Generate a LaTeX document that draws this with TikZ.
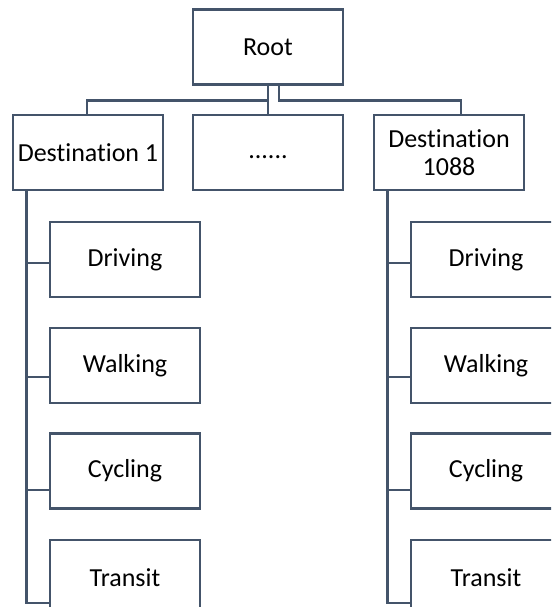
\documentclass[tikz,border=0pt]{standalone}
\usepackage{fontspec}
\setmainfont{Carlito}[Ligatures=CommonOff]
\usetikzlibrary{calc}
\definecolor{edge}{HTML}{44546A}
\tikzset{
  box/.style={draw=edge, line width=1.9pt, fill=white, rectangle,
    minimum width=112.5pt, minimum height=56pt, inner sep=2pt,
    align=center, font=\fontsize{19.5pt}{21pt}\selectfont, text=black},
  link/.style={draw=edge, line width=1.9pt}
}
\begin{document}
\begin{tikzpicture}[x=0.75pt, y=-0.75pt]
\fill[white] (0,0) rectangle (551,607);
\useasboundingbox (0,0) rectangle (551,607);
\clip (0,0) rectangle (551,607);
% top level
\node[box] (root) at (268,47) {Root};
\node[box] (d1) at (88,152.5) {Destination 1};
\node[box] (mid) at (268,152.5) {\strut......};
\node[box] (d2) at (449,152.5) {Destination\\1088};
% children left
\node[box] (l1) at (125,259.5) {Driving};
\node[box] (l2) at (125,365.5) {Walking};
\node[box] (l3) at (125,471) {Cycling};
\node[box] (l4) at (125,577.5) {Transit};
% children right
\node[box] (r1) at (486,259.5) {Driving};
\node[box] (r2) at (486,365.5) {Walking};
\node[box] (r3) at (486,471) {Cycling};
\node[box] (r4) at (486,577.5) {Transit};
% bus
\coordinate (bus) at (0,100.5);
\draw[link] (root.south) -- (root.south |- bus) -| ($(d1.north)+(-1,0)$);
\draw[link] (root.south) -- (mid.north);
\draw[link] ($(root.south)+(11,0)$) -- ($(root.south |- bus)+(11,0)$) -| ($(d2.north)+(12,0)$);
% stems
\coordinate (s1) at ($(d1.south west)+(14.5,0)$);
\coordinate (s2) at ($(d2.south west)+(15,0)$);
\draw[link] (s1) |- ($(l1.west)+(0,3.5)$);
\draw[link] (s1) |- ($(l2.west)+(0,11.5)$);
\draw[link] (s1) |- ($(l3.west)+(0,19)$);
\draw[link] (s1) |- ($(l4.west)+(0,25.5)$);
\draw[link] (s2) |- ($(r1.west)+(0,3.5)$);
\draw[link] (s2) |- ($(r2.west)+(0,11.5)$);
\draw[link] (s2) |- ($(r3.west)+(0,19)$);
\draw[link] (s2) |- ($(r4.west)+(0,25.5)$);
\end{tikzpicture}
\end{document}
